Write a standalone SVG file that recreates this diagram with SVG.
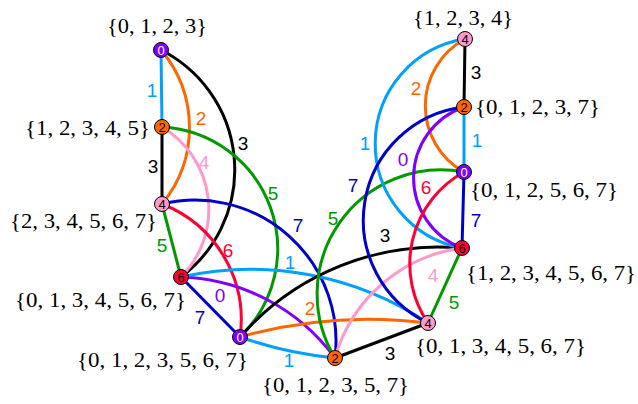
<svg xmlns="http://www.w3.org/2000/svg" width="638" height="404" viewBox="0 0 638 404">
<style>
.e{fill:none;stroke-width:3;stroke-linecap:round}
.c0{stroke:#8000ff}.c1{stroke:#00a0ff}.c2{stroke:#ff6600}.c3{stroke:#000}.c4{stroke:#ff99cc}.c5{stroke:#009a00}.c6{stroke:#ff0033}.c7{stroke:#0000cc}
.l{font-family:"Liberation Sans",Arial,sans-serif;font-size:19px;text-anchor:middle}
.t0{fill:#8000ff}.t1{fill:#00a0ff}.t2{fill:#ff6600}.t3{fill:#000}.t4{fill:#ff99cc}.t5{fill:#009a00}.t6{fill:#ff0033}.t7{fill:#0000cc}
.k{stroke:#000;stroke-width:1}
.d{font-family:"Liberation Sans",Arial,sans-serif;font-size:13px;text-anchor:middle;fill:#000}
.w{fill:#fff}
.f0{fill:#8000ff}.f2{fill:#ff6600}.f4{fill:#ff99cc}.f6{fill:#ff0033}
.s{font-family:"Liberation Serif","Times New Roman",serif;font-size:22px;fill:#000;text-anchor:start}
</style>
<g id="connectors">
<path class="e c1" d="M161,50 L162,127"/>
<path class="e c3" d="M162,127 L162,204"/>
<path class="e c5" d="M162,204 L181,277"/>
<path class="e c7" d="M181,277 L240,337"/>
<path class="e c3" d="M335,358 L428,323"/>
<path class="e c5" d="M428,323 L462,248"/>
<path class="e c7" d="M462,248 L464,172"/>
<path class="e c1" d="M464,172 L464,107"/>
<path class="e c3" d="M464,107 L465,39"/>
<path class="e c2" d="M161,50 A120,120 0 0 1 162,204"/>
<path class="e c3" d="M161,50 A134,134 0 0 1 181,277"/>
<path class="e c4" d="M162,127 A96,96 0 0 1 181,277"/>
<path class="e c5" d="M162,127 A122,122 0 0 1 240,337"/>
<path class="e c6" d="M162,204 A124,124 0 0 1 240,337"/>
<path class="e c7" d="M162,204 A141,141 0 0 1 335,358"/>
<path class="e c0" d="M181,277 A199,199 0 0 1 335,358"/>
<path class="e c1" d="M181,277 A320,320 0 0 1 428,323"/>
<path class="e c2" d="M240,337 A472,472 0 0 1 428,323"/>
<path class="e c1" d="M240,337 A400,400 0 0 0 335,358"/>
<path class="e c3" d="M240,337 A264,264 0 0 1 462,248"/>
<path class="e c5" d="M335,358 A124,124 0 0 1 464,172"/>
<path class="e c4" d="M335,358 A153,153 0 0 1 462,248"/>
<path class="e c1" d="M465,39 A106,106 0 0 0 462,248"/>
<path class="e c2" d="M465,39 A76,76 0 0 0 464,172"/>
<path class="e c0" d="M464,107 A75,75 0 0 0 462,248"/>
<path class="e c7" d="M464,107 A114,114 0 0 0 428,323"/>
<path class="e c6" d="M464,172 A105,105 0 0 0 428,323"/>
</g>
<g id="edge-labels">
<text class="l t1" x="152" y="97">1</text>
<text class="l t2" x="201" y="125">2</text>
<text class="l t3" x="243" y="150">3</text>
<text class="l t3" x="153" y="173">3</text>
<text class="l t4" x="204" y="169">4</text>
<text class="l t5" x="273" y="200">5</text>
<text class="l t5" x="162" y="252">5</text>
<text class="l t6" x="228" y="257">6</text>
<text class="l t7" x="298" y="232">7</text>
<text class="l t1" x="290" y="269">1</text>
<text class="l t0" x="220" y="302">0</text>
<text class="l t7" x="200" y="324">7</text>
<text class="l t2" x="310" y="315">2</text>
<text class="l t1" x="289" y="367">1</text>
<text class="l t3" x="385" y="242">3</text>
<text class="l t5" x="333" y="225">5</text>
<text class="l t3" x="390" y="360">3</text>
<text class="l t4" x="433" y="282">4</text>
<text class="l t5" x="454" y="309">5</text>
<text class="l t7" x="476" y="227">7</text>
<text class="l t6" x="426" y="194">6</text>
<text class="l t0" x="403" y="166">0</text>
<text class="l t7" x="353" y="192">7</text>
<text class="l t1" x="365" y="150">1</text>
<text class="l t1" x="477" y="147">1</text>
<text class="l t2" x="416" y="95">2</text>
<text class="l t3" x="476" y="79">3</text>
</g>
<g id="L0"><circle class="k f0" cx="161" cy="50" r="7.5"/><text class="d w" x="161" y="54.7">0</text><text class="s" x="107" y="33" textLength="100" lengthAdjust="spacingAndGlyphs">{0, 1, 2, 3}</text></g>
<g id="L2"><circle class="k f2" cx="162" cy="127" r="7.5"/><text class="d" x="162" y="131.7">2</text><text class="s" x="25" y="135" textLength="125" lengthAdjust="spacingAndGlyphs">{1, 2, 3, 4, 5}</text></g>
<g id="L4"><circle class="k f4" cx="162" cy="204" r="7.5"/><text class="d" x="162" y="208.7">4</text><text class="s" x="10" y="228" textLength="147" lengthAdjust="spacingAndGlyphs">{2, 3, 4, 5, 6, 7}</text></g>
<g id="L6"><circle class="k f6" cx="181" cy="277" r="7.5"/><text class="d" x="181" y="281.7">6</text><text class="s" x="15" y="307" textLength="171" lengthAdjust="spacingAndGlyphs">{0, 1, 3, 4, 5, 6, 7}</text></g>
<g id="B0"><circle class="k f0" cx="240" cy="337" r="7.5"/><text class="d w" x="240" y="341.7">0</text><text class="s" x="77" y="367" textLength="171" lengthAdjust="spacingAndGlyphs">{0, 1, 2, 3, 5, 6, 7}</text></g>
<g id="B2"><circle class="k f2" cx="335" cy="358" r="7.5"/><text class="d" x="335" y="362.7">2</text><text class="s" x="262" y="392" textLength="147" lengthAdjust="spacingAndGlyphs">{0, 1, 2, 3, 5, 7}</text></g>
<g id="B4"><circle class="k f4" cx="428" cy="323" r="7.5"/><text class="d" x="428" y="327.7">4</text><text class="s" x="415" y="353" textLength="171" lengthAdjust="spacingAndGlyphs">{0, 1, 3, 4, 5, 6, 7}</text></g>
<g id="R6"><circle class="k f6" cx="462" cy="248" r="7.5"/><text class="d" x="462" y="252.7">6</text><text class="s" x="466" y="280" textLength="170" lengthAdjust="spacingAndGlyphs">{1, 2, 3, 4, 5, 6, 7}</text></g>
<g id="R0"><circle class="k f0" cx="464" cy="172" r="7.5"/><text class="d w" x="464" y="176.7">0</text><text class="s" x="470" y="197" textLength="148" lengthAdjust="spacingAndGlyphs">{0, 1, 2, 5, 6, 7}</text></g>
<g id="R2"><circle class="k f2" cx="464" cy="107" r="7.5"/><text class="d" x="464" y="111.7">2</text><text class="s" x="475" y="114" textLength="125" lengthAdjust="spacingAndGlyphs">{0, 1, 2, 3, 7}</text></g>
<g id="R4"><circle class="k f4" cx="465" cy="39" r="7.5"/><text class="d" x="465" y="43.7">4</text><text class="s" x="413" y="25" textLength="100" lengthAdjust="spacingAndGlyphs">{1, 2, 3, 4}</text></g>
</svg>
